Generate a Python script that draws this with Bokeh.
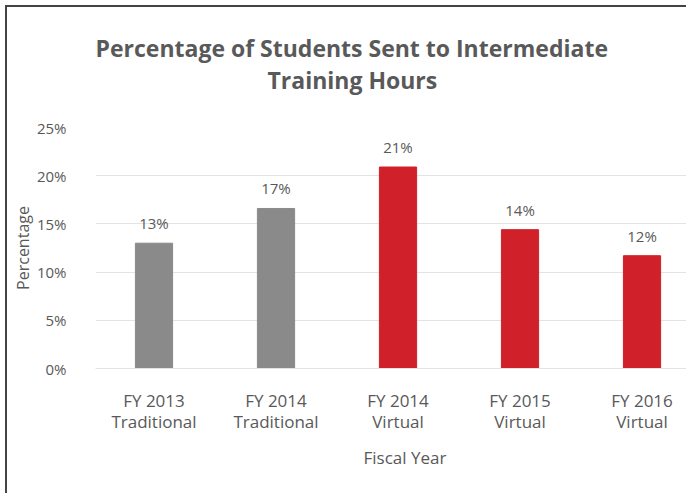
from bokeh.plotting import figure
from bokeh.models import ColumnDataSource, NumeralTickFormatter, FixedTicker, Title, LabelSet
from bokeh.core.properties import value
from bokeh.embed import file_html
from bokeh.resources import INLINE

title_lines = ["Percentage of Students Sent to Intermediate", "Training Hours"]
categories = ["FY 2013\nTraditional", "FY 2014\nTraditional", "FY 2014\nVirtual",
              "FY 2015\nVirtual", "FY 2016\nVirtual"]
values = [0.13, 0.166, 0.209, 0.144, 0.117]
colors = ["#8a8a8a", "#8a8a8a", "#d0202a", "#d0202a", "#d0202a"]
y_ticks = [0, 0.05, 0.10, 0.15, 0.20, 0.25]

FONT = "Open Sans"
TXT = "#595959"

idx = list(range(len(categories)))
labels = [f"{round(v * 100)}%" for v in values]
src = ColumnDataSource(dict(x=idx, top=values, color=colors, label=labels))

p = figure(width=681, height=488, output_backend="svg", toolbar_location=None,
           x_range=(-0.4795, 4.381), y_range=(0, 0.25),
           min_border_left=88, min_border_right=0, min_border_top=120, min_border_bottom=127)

p.vbar(x="x", top="top", width=0.305, color="color", source=src)

p.add_layout(LabelSet(x="x", y="top", text="label", source=src, text_align="center",
                      text_baseline="bottom", y_offset=10, text_font=value(FONT),
                      text_font_size=value("15px"), text_color=value(TXT)))

p.outline_line_color = None
p.background_fill_color = "white"
p.border_fill_color = "white"
p.xgrid.grid_line_color = None
p.ygrid.grid_line_color = "#e3e3e3"
p.ygrid.grid_line_width = 1

p.yaxis.ticker = FixedTicker(ticks=y_ticks)
p.yaxis.formatter = NumeralTickFormatter(format="0%")
p.yaxis.axis_line_color = None
p.yaxis.major_tick_line_color = None
p.yaxis.minor_tick_line_color = None
p.yaxis.major_label_standoff = 23
p.yaxis.major_label_text_font = FONT
p.yaxis.major_label_text_font_size = "15px"
p.yaxis.major_label_text_color = TXT
p.yaxis.axis_label = "Percentage"
p.yaxis.axis_label_text_font = FONT
p.yaxis.axis_label_text_font_size = "16px"
p.yaxis.axis_label_text_font_style = "normal"
p.yaxis.axis_label_text_color = TXT
p.yaxis.axis_label_standoff = 0

p.xaxis.ticker = FixedTicker(ticks=idx)
p.xaxis.major_label_overrides = {i: c for i, c in zip(idx, categories)}
p.xaxis.axis_line_color = "#e3e3e3"
p.xaxis.major_tick_line_color = None
p.xaxis.minor_tick_line_color = None
p.xaxis.major_label_standoff = 14
p.xaxis.major_label_text_font = FONT
p.xaxis.major_label_text_font_size = "17px"
p.xaxis.major_label_text_line_height = 0.95
p.xaxis.major_label_text_color = TXT

p.add_layout(Title(text="Fiscal Year", align="left", offset=268, text_font=FONT,
                   text_font_size="17px", text_font_style="normal", text_color=TXT,
                   standoff=14), "below")

# second title line sits nearest the frame, first line is stacked above it
p.add_layout(Title(text=title_lines[1], align="left", offset=172, text_font=FONT,
                   text_font_size="23px", text_font_style="bold", text_color=TXT,
                   standoff=64), "above")
p.add_layout(Title(text=title_lines[0], align="left", offset=0, text_font=FONT,
                   text_font_size="23px", text_font_style="bold", text_color=TXT,
                   standoff=-68), "above")

p.styles = {"margin-left": "5px", "margin-top": "5px",
            "border-left": "2px solid #444444", "border-top": "2px solid #444444"}

open("out.html", "w").write(file_html(p, INLINE))
